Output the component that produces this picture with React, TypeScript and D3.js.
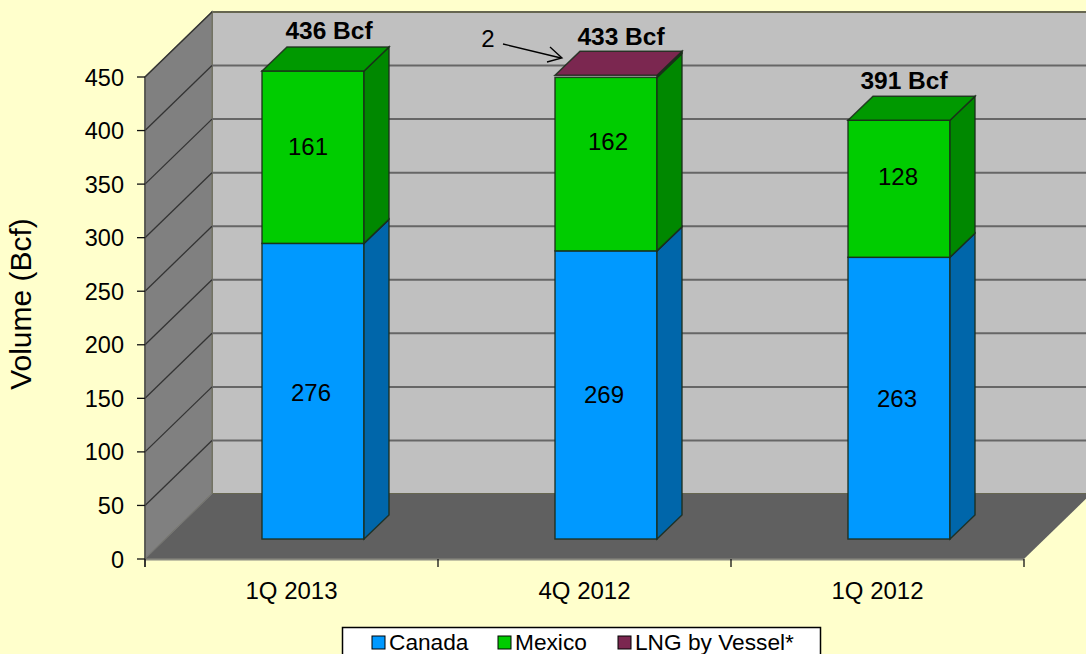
import React from "react";
import * as d3 from "d3";

const categories = ["1Q 2013", "4Q 2012", "1Q 2012"];
const canada = [276, 269, 263];
const mexico = [161, 162, 128];
const lng = [0, 2, 0];
const totals = ["436 Bcf", "433 Bcf", "391 Bcf"];
const yTicks = [0, 50, 100, 150, 200, 250, 300, 350, 400, 450];
const seriesNames = ["Canada", "Mexico", "LNG by Vessel*"];

const W = 1086, H = 654;
const FONT = "'Liberation Sans', Arial, sans-serif";
const frontY = d3.scaleLinear().domain([0, 450]).range([559, 77]);
const xBand = d3.scaleBand().domain(categories).range([145, 1024]).paddingInner(0).paddingOuter(0);
const depthX = 67, depthY = 65;
const barDX = 21.5, barDY = 20, barW = 102, barDepthX = 25, barDepthY = 24;

const faces = [
  { front: "#0099FF", side: "#0066AA" },
  { front: "#00CC00", top: "#009900", side: "#008800" },
  { front: "#7B2750", top: "#7B2750", side: "#008800" },
];

const pts = (p: number[][]) => p.map((d) => d.join(",")).join(" ");

function Bar({ i }: { i: number }) {
  const cat = categories[i];
  const cx = xBand(cat)! + xBand.bandwidth() / 2 + barDX;
  const x0 = cx - barW / 2, x1 = cx + barW / 2;
  const yv = (v: number) => frontY(v) - barDY;
  const stack = d3.stack<number>().keys(["0", "1", "2"]).value((idx, k) => [canada, mexico, lng][+k][idx])([i]);
  const stroke = "#1a2a1a";
  const total = canada[i] + mexico[i] + lng[i];
  return (
    <g>
      {stack.map((s, k) => {
        const [a, b] = s[0];
        if (b - a <= 0) return null;
        const f = faces[k];
        return (
          <g key={k}>
            {b - a > 3 && <rect x={x0} y={yv(b)} width={barW} height={yv(a) - yv(b)} fill={f.front} stroke={stroke} strokeWidth={1.5} strokeOpacity={0.85} />}
            <polygon
              points={pts([[x1, yv(a)], [x1 + barDepthX, yv(a) - barDepthY], [x1 + barDepthX, yv(b) - barDepthY], [x1, yv(b)]])}
              fill={f.side}
              stroke={stroke} strokeWidth={1.5} strokeOpacity={0.85}
            />
          </g>
        );
      })}
      <polygon
        points={pts([[x0, yv(total)], [x0 + barDepthX, yv(total) - barDepthY], [x1 + barDepthX, yv(total) - barDepthY], [x1, yv(total)]])}
        fill={lng[i] > 0 ? faces[2].top : faces[1].top}
        stroke={stroke} strokeWidth={1.5} strokeOpacity={0.85}
      />
    </g>
  );
}

export default function App() {
  const backY = (v: number) => frontY(v) - depthY;
  const right = 1024;
  const labelFs = 24;
  const canadaLabelX = [311, 604, 897];
  const mexicoLabelX = [308, 608, 898];
  const canadaLabelY = [401, 403, 407];
  const mexicoLabelY = [155, 150, 185];
  const totalPos = [[329, 39], [621, 45], [904, 89]];
  const barCx = categories.map((c) => xBand(c)! + xBand.bandwidth() / 2);
  return (
    <svg width={W} height={H} style={{ position: "fixed", left: 0, top: 0, display: "block" }} fontFamily={FONT}>
      <rect width={W} height={H} fill="#FFFFCC" />
      {/* back wall */}
      <rect x={145 + depthX} y={backY(450)} width={W} height={backY(0) - backY(450)} fill="#C0C0C0" stroke="#666650" strokeWidth={2} />
      {/* side wall */}
      <polygon points={pts([[145, frontY(0)], [145 + depthX, backY(0)], [145 + depthX, backY(450)], [145, frontY(450)]])} fill="#808080" stroke="#77776a" strokeWidth={1.5} />
      {/* floor */}
      <polygon points={pts([[145, frontY(0)], [145 + depthX, backY(0)], [right + depthX, backY(0)], [right, frontY(0)]])} fill="#606060" />
      <line x1={145} x2={right} y1={frontY(0) + 0.5} y2={frontY(0) + 0.5} stroke="#8a8a80" strokeWidth={2} />
      {/* gridlines */}
      {yTicks.slice(1).map((t) => (
        <g key={t}>
          <line x1={145} y1={frontY(t)} x2={145 + depthX} y2={backY(t)} stroke="#333" strokeWidth={1.3} />
          {t < 450 && <line x1={145 + depthX} y1={backY(t)} x2={W} y2={backY(t)} stroke="#666" strokeWidth={2} />}
        </g>
      ))}
      <line x1={145} y1={frontY(0)} x2={145 + depthX} y2={backY(0)} stroke="#777" strokeWidth={1} />
      {/* axes */}
      <line x1={145} x2={145} y1={frontY(450)} y2={frontY(0) + 8} stroke="#444" strokeWidth={1.3} />
      {yTicks.map((t) => (
        <g key={t}>
          <line x1={137} x2={145} y1={frontY(t)} y2={frontY(t)} stroke="#111" strokeWidth={1.3} />
          <text x={124} y={frontY(t) + 8.5} textAnchor="end" fontSize={23.5} fill="#000">{t}</text>
        </g>
      ))}
      {[...categories.map((c) => xBand(c)!), right].map((x, i) => (
        <line key={i} x1={x} x2={x} y1={frontY(0)} y2={frontY(0) + 8} stroke="#111" strokeWidth={1.3} />
      ))}
      {categories.map((c, i) => (
        <text key={c} x={barCx[i]} y={599} textAnchor="middle" fontSize={labelFs} fill="#000">{c}</text>
      ))}
      <text transform="translate(31,304) rotate(-90)" textAnchor="middle" fontSize={30} fill="#000">Volume (Bcf)</text>
      {/* bars */}
      {categories.map((_, i) => <Bar key={i} i={i} />)}
      {/* labels */}
      {categories.map((c, i) => (
        <g key={c} fontSize={labelFs} fill="#000" textAnchor="middle">
          <text x={canadaLabelX[i]} y={canadaLabelY[i]}>{canada[i]}</text>
          <text x={mexicoLabelX[i]} y={mexicoLabelY[i]}>{mexico[i]}</text>
          <text x={totalPos[i][0]} y={totalPos[i][1]} fontWeight="bold" fontSize={24.5}>{totals[i]}</text>
        </g>
      ))}
      {/* annotation */}
      <text x={488} y={47} textAnchor="middle" fontSize={labelFs} fill="#000">{lng[1]}</text>
      <line x1={503} y1={44} x2={561} y2={58} stroke="#000" strokeWidth={1.3} />
      <polyline points="550,47 562,58 547,62" fill="none" stroke="#000" strokeWidth={1.3} />
      {/* legend */}
      <rect x={342.5} y={627.5} width={478} height={40} fill="#fff" stroke="#000" strokeWidth={1.5} />
      {seriesNames.map((s, i) => {
        const lx = [372, 498, 618][i];
        return (
          <g key={s}>
            <rect x={lx} y={636} width={13} height={13} fill={faces[i].front} stroke="#000" strokeWidth={1} />
            <text x={lx + 17} y={650} fontSize={22.7} fill="#000">{s}</text>
          </g>
        );
      })}
    </svg>
  );
}
